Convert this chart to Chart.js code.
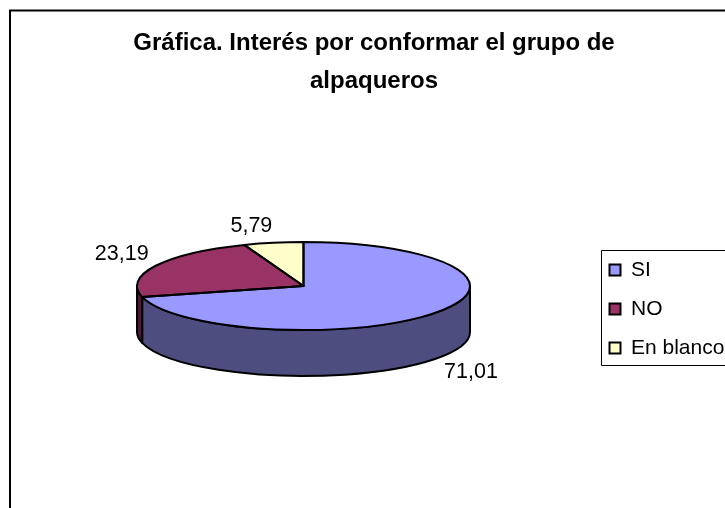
<!DOCTYPE html>
<html>
<head>
<meta charset="utf-8">
<style>html,body{margin:0;padding:0;background:#fff}canvas{display:block}</style>
<script src="https://cdn.jsdelivr.net/npm/chart.js@4"></script>
</head>
<body>
<canvas id="c" width="725" height="508"></canvas>
<script>
const titleLines = ['Gráfica. Interés por conformar el grupo de', 'alpaqueros'];
const categories = ['SI', 'NO', 'En blanco'];
const values = [71.01, 23.19, 5.79];
const topColors = ['#9999FF', '#993366', '#FFFFCC'];
const wallColors = ['#4D4D80', '#4D1A33', '#80805F'];
const FONT = '"Liberation Sans", Arial, sans-serif';

// Oblique view of the pie
const view = { cx: 303.5, cy: 286, rx: 166.5, ry: 44, depth: 46 };
const labelNudge = [[36, 13], [-34, -12], [-22, -17]];

const pie3d = {
  id: 'pie3d',
  beforeDraw(chart) {
    const ctx = chart.ctx;
    ctx.save();
    ctx.strokeStyle = '#000';
    ctx.lineWidth = 2;
    ctx.strokeRect(10, 10.5, 900, 700);
    ctx.restore();
  },
  afterLayout(chart) {
    const lg = chart.legend;
    const w = lg.width, h = lg.height;
    lg.left = 591.5; lg.right = lg.left + w;
    lg.top = 241.5; lg.bottom = lg.top + h;
  },
  beforeDatasetsDraw(chart) {
    const ctx = chart.ctx;
    const arcs = chart.getDatasetMeta(0).data;
    const { cx, cy, rx, ry, depth } = view;
    arcs.forEach((el, i) => {
      const s = Math.max(el.startAngle, 0);
      const e = Math.min(el.endAngle, Math.PI);
      if (e <= s) return;
      ctx.beginPath();
      ctx.ellipse(cx, cy, rx, ry, 0, s, e);
      ctx.ellipse(cx, cy + depth, rx, ry, 0, e, s, true);
      ctx.closePath();
      ctx.fillStyle = wallColors[i];
      ctx.fill();
      ctx.strokeStyle = '#000';
      ctx.lineWidth = 2;
      ctx.lineJoin = 'round';
      ctx.stroke();
    });
    const first = arcs[0];
    ctx.save();
    ctx.translate(cx, cy);
    ctx.scale(rx / first.outerRadius, ry / first.outerRadius);
    ctx.translate(-first.x, -first.y);
  },
  afterDatasetsDraw(chart) {
    const ctx = chart.ctx;
    ctx.restore();
    const arcs = chart.getDatasetMeta(0).data;
    const { cx, cy, rx, ry, depth } = view;
    ctx.save();
    ctx.strokeStyle = '#000';
    ctx.lineWidth = 2;
    ctx.lineJoin = 'round';
    arcs.forEach(el => {
      ctx.beginPath();
      ctx.moveTo(cx, cy);
      ctx.ellipse(cx, cy, rx, ry, 0, el.startAngle, el.endAngle);
      ctx.closePath();
      ctx.stroke();
    });
    ctx.fillStyle = '#000';
    ctx.font = '21.5px ' + FONT;
    ctx.textAlign = 'center';
    ctx.textBaseline = 'middle';
    arcs.forEach((el, i) => {
      const m = (el.startAngle + el.endAngle) / 2;
      const front = Math.sin(m) > 0 ? depth : 0;
      const x = cx + rx * Math.cos(m) + labelNudge[i][0];
      const y = cy + ry * Math.sin(m) + front + labelNudge[i][1];
      ctx.fillText(String(values[i]).replace('.', ','), x, y);
    });
    ctx.restore();
  },
  afterDraw(chart) {
    const ctx = chart.ctx;
    const lg = chart.legend;
    ctx.save();
    ctx.strokeStyle = '#000';
    ctx.lineWidth = 1;
    ctx.strokeRect(lg.left + 10, lg.top + 9, 200, 115);
    ctx.restore();
  }
};

new Chart(document.getElementById('c'), {
  type: 'pie',
  data: {
    labels: categories,
    datasets: [{
      data: values,
      backgroundColor: topColors,
      borderWidth: 0,
      clip: false
    }]
  },
  options: {
    responsive: false,
    animation: false,
    layout: { padding: { left: 23 } },
    plugins: {
      tooltip: { enabled: false },
      title: {
        display: true,
        text: titleLines,
        color: '#000',
        padding: { top: 24, bottom: 10 },
        font: { family: FONT, size: 24, weight: 'bold', lineHeight: 1.58 }
      },
      legend: {
        display: true,
        position: 'right',
        align: 'start',
        labels: {
          boxWidth: 11,
          boxHeight: 11,
          padding: 18,
          color: '#000',
          font: { family: FONT, size: 21 },
          generateLabels(chart) {
            return categories.map((t, i) => ({
              text: t,
              index: i,
              fillStyle: topColors[i],
              strokeStyle: '#000',
              lineWidth: 2,
              hidden: false
            }));
          }
        }
      }
    }
  },
  plugins: [pie3d]
});
</script>
</body>
</html>
